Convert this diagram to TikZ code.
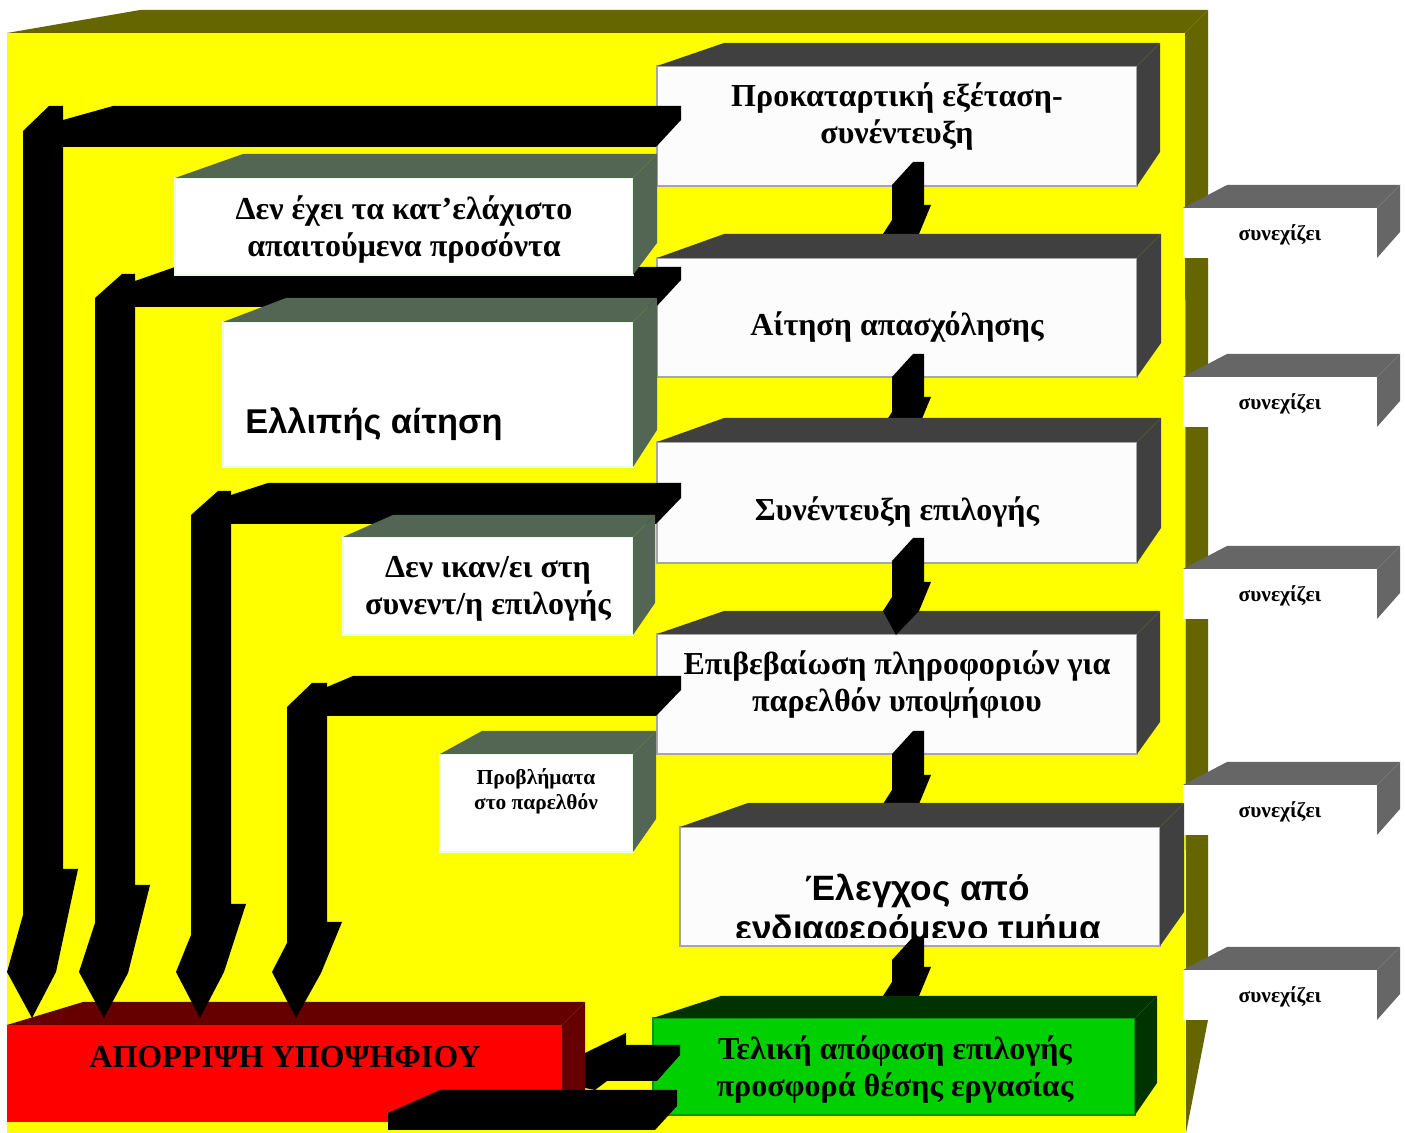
\documentclass[tikz,border=0pt]{standalone}
\usepackage{fontspec}
\setmainfont{Liberation Serif}
\setsansfont{Liberation Sans}
\usetikzlibrary{calc}
\definecolor{yel}{HTML}{FFFF00}
\definecolor{oliv}{HTML}{666600}
\definecolor{dgray}{HTML}{404040}
\definecolor{mgray}{HTML}{666666}
\definecolor{sage}{HTML}{536653}
\definecolor{maroonc}{HTML}{660000}
\definecolor{dgreen}{HTML}{003300}
\definecolor{bgreen}{HTML}{00D000}
\definecolor{edgegreen}{HTML}{009900}
\definecolor{lgreen}{HTML}{E4FFE4}
\newcommand\fsz[2]{\fontsize{#1}{#2}\selectfont}
% #1 node, #2 back-left offset, #3 depth, #4 right-face vertical length, #5 colour
\newcommand\depthfaces[5]{%
  \fill[#5] (#1.north west) -- ++(#2,-#3) -- ($(#1.north east)+(#3,-#3)$) -- (#1.north east) -- cycle;
  \fill[#5] (#1.north east) -- ++(#3,-#3) -- ++(0,#4) -- (#1.south east) -- cycle;}
% flow arrow: #1 top y, #2 y where the head widens
\newcommand\flowarrow[2]{%
  \fill[black] (892,#1+23) -- (913,#1) -- (924,#1) -- (924,#2) -- (931,#2) -- (919,#2+29) -- (896,#2+53) -- (883,#2+29) -- (892,#2+15) -- cycle;}
\begin{document}
\begin{tikzpicture}[x=0.5pt,y=-0.5pt,
  flowbox/.style={draw=black!35, line width=0.8pt, fill=black!1, anchor=north west, inner sep=0pt, outer sep=0pt},
  sidebox/.style={draw=lgreen, line width=0.8pt, fill=white, anchor=north west, inner sep=0pt, outer sep=0pt},
  contbox/.style={fill=white, anchor=north west, inner sep=0pt, outer sep=0pt, minimum width=97pt, minimum height=25pt},
  bigtext/.style={font=\bfseries\fsz{16}{18.5}, align=center, inner sep=0pt, text=black},
  conttext/.style={font=\bfseries\fsz{10.7}{12}, inner sep=0pt, text=black},
  smalltext/.style={font=\bfseries\fsz{10.7}{12.5}, align=center, inner sep=0pt, text=black},
  sanstext/.style={font=\sffamily\bfseries\fsz{17.2}{19}, inner sep=0pt, text=black},
  sansE/.style={font=\sffamily\bfseries\fsz{17.6}{19}, inner sep=0pt, text=black}
]
\useasboundingbox (0,0) rectangle (1405,1133);
\fill[white] (0,0) rectangle (1405,1133);
% yellow panel
\fill[yel] (7,33) rectangle (1185,1133);
\fill[oliv] (7,33) -- (140,10) -- (1208,10) -- (1185,33) -- cycle;
\fill[oliv] (1185,33) -- (1208,10) -- (1208,1020) -- (1186,1133) -- cycle;
% continue boxes
\foreach \y [count=\i] in {208,377,569,785,970} {
  \node[contbox] (K\i) at (1183,\y) {};
  \depthfaces{K\i}{44}{23}{47}{mgray}
  \node[conttext] (Kt\i) at (1280,\y+27) {συνεχίζει};
}
% red box
\node[fill=red, anchor=north west, inner sep=0pt, outer sep=0pt, minimum width=277.5pt, minimum height=48.5pt] (R) at (7,1025) {};
\depthfaces{R}{76}{23}{88}{maroonc}
\node[bigtext] (Rt) at (285,1057) {ΑΠΟΡΡΙΨΗ ΥΠΟΨΗΦΙΟΥ};
% flow boxes
\node[flowbox, minimum width=240pt, minimum height=60pt] (A) at (657,66) {};
\depthfaces{A}{67}{23}{109}{dgray}
\node[bigtext] (At) at (897,117) {Προκαταρτική εξέταση-\\συνέντευξη};
\flowarrow{162}{205}
\node[flowbox, minimum width=240pt, minimum height=59.5pt] (B) at (657,258) {};
\depthfaces{B}{67}{24}{109}{dgray}
\node[bigtext] (Bt) at (897,327) {Αίτηση απασχόλησης};
\flowarrow{354}{397}
\node[flowbox, minimum width=240pt, minimum height=60.5pt] (C) at (657,442) {};
\depthfaces{C}{67}{24}{110}{dgray}
\node[bigtext] (Ct) at (897,512) {Συνέντευξη επιλογής};
\node[flowbox, minimum width=240pt, minimum height=60pt] (D) at (657,634) {};
\depthfaces{D}{67}{23}{111}{dgray}
\node[bigtext] (Dt) at (897,685) {Επιβεβαίωση πληροφοριών για\\παρελθόν υποψήφιου};
\flowarrow{538}{582}
\flowarrow{731}{775}
\node[flowbox, minimum width=240pt, minimum height=59.5pt] (E) at (680,827) {};
\depthfaces{E}{68}{24}{109}{dgray}
\begin{scope}
  \clip (680,827) rectangle (1160,938);
  \node[sansE, anchor=base] (Et1) at (918,901) {Έλεγχος από};
  \node[sansE, anchor=base] (Et2) at (918,941) {ενδιαφερόμενο τμήμα};
\end{scope}
\flowarrow{937}{967}
\node[draw=edgegreen, line width=1.2pt, fill=bgreen, anchor=north west, inner sep=0pt, outer sep=0pt, minimum width=241pt, minimum height=48.5pt] (F) at (653,1018) {};
\depthfaces{F}{68}{22}{87}{dgreen}
\node[bigtext] (Ft) at (895,1070) {Τελική απόφαση επιλογής\\προσφορά θέσης εργασίας};
% rejection arrows
\fill[black] (23,131) -- (49,106) -- (63,106) -- (63,120) -- (113,106) -- (681,106) -- (681,120) -- (656,147) -- (63,147) -- (63,869) -- (78,869) -- (56,972) -- (32,1018) -- (7,972) -- (23,915) -- cycle;
\fill[black] (95,298) -- (122,274) -- (135,274) -- (135,281) -- (175,267) -- (681,267) -- (681,280) -- (656,307) -- (135,307) -- (135,885) -- (150,885) -- (128,973) -- (104,1018) -- (79,972) -- (95,923) -- cycle;
\fill[black] (191,515) -- (218,491) -- (231,491) -- (231,495) -- (268,483) -- (681,483) -- (681,498) -- (656,524) -- (231,524) -- (231,904) -- (246,904) -- (224,972) -- (200,1018) -- (176,972) -- (191,935) -- cycle;
\fill[black] (287,707) -- (312,683) -- (327,683) -- (327,687) -- (353,676) -- (681,676) -- (681,690) -- (656,716) -- (327,716) -- (327,922) -- (342,922) -- (321,973) -- (296,1018) -- (272,972) -- (287,943) -- cycle;
% side boxes
\node[sidebox, minimum width=229pt, minimum height=48.5pt] (G) at (175,178) {};
\depthfaces{G}{68}{24}{89}{sage}
\node[bigtext] (Gt) at (404,230) {Δεν έχει τα κατ’ελάχιστο\\απαιτούμενα προσόντα};
\node[sidebox, minimum width=205pt, minimum height=72.5pt] (H) at (223,322) {};
\depthfaces{H}{63}{24}{132}{sage}
\node[sanstext, anchor=base west] (Ht) at (245,434) {Ελλιπής αίτηση};
\node[sidebox, minimum width=145pt, minimum height=49pt] (I) at (343,537) {};
\depthfaces{I}{50}{22}{88}{sage}
\node[bigtext] (It) at (488,589) {Δεν ικαν/ει στη\\συνεντ/η επιλογής};
\node[sidebox, minimum width=96.5pt, minimum height=49pt] (J) at (440,754) {};
\depthfaces{J}{42}{23}{88}{sage}
\node[smalltext] (Jt) at (536,791) {Προβλήματα\\στο παρελθόν};
% final arrow into rejection box
\fill[black] (585,1053) -- (626,1033) -- (626,1045) -- (680,1045) -- (680,1055) -- (657,1081) -- (607,1081) -- (595,1090) -- (585,1088) -- cycle;
\fill[black] (440,1090) -- (677,1090) -- (677,1106) -- (655,1130) -- (388,1130) -- (388,1113) -- cycle;
\end{tikzpicture}
\end{document}
